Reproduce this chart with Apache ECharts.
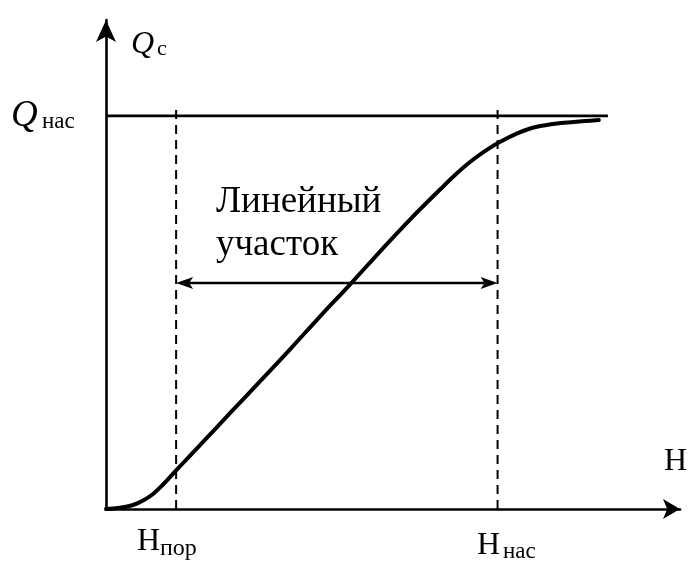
<!DOCTYPE html>
<html>
<head>
<meta charset="utf-8">
<script src="https://cdn.jsdelivr.net/npm/echarts@6/dist/echarts.min.js"></script>
<style>
  html, body { margin: 0; padding: 0; background: #fff; }
  #chart { width: 689px; height: 563px; }
</style>
</head>
<body>
<div id="chart"></div>
<script>
// Magnetisation-type curve Q_c(H): field strength H vs. output Q_c (arbitrary units)
const fieldH = [0, 2.41, 4.66, 6.38, 8.10, 9.83, 12.07, 14.48, 17.07, 21.38, 26.55, 31.72, 36.90,
                42.07, 47.24, 52.41, 57.59, 60.17, 62.76, 65.34, 67.93, 70.52, 73.97, 78.28, 82.59, 84.83];
const outputQ = [0, 0.24, 0.80, 1.71, 3.02, 4.93, 7.75, 10.76, 13.98, 19.32, 25.75, 32.19, 38.83,
                 45.27, 51.91, 58.35, 64.39, 67.30, 69.92, 72.13, 73.94, 75.45, 76.86, 77.67, 78.07, 78.27];

// Characteristic levels
const qSat = 79.1;          // Q_нас, saturation level
const qSatLineEnd = 86.4;   // extent of the saturation level line
const hThreshold = 12.07;   // H_пор
const hSat = 67.4;          // H_нас
const guideTop = 81.2;      // top of the dashed guides
const spanLevel = 45.5;     // height of the "linear region" span arrow

const axisMaxH = 98.8;
const axisMaxQ = 98.4;

const serif = '"Liberation Serif", "DejaVu Serif", serif';

const chart = echarts.init(document.getElementById('chart'), null, { renderer: 'canvas' });

function label(text, x, y, size, italic) {
  return {
    type: 'text', x: x, y: y, silent: true,
    style: {
      text: text, fill: '#000',
      font: (italic ? 'italic ' : '') + size + 'px ' + serif,
      verticalAlign: 'middle', align: 'left'
    }
  };
}

chart.setOption({
  animation: false,
  backgroundColor: '#fff',
  grid: { left: 106, right: 9, top: 20, bottom: 54 },
  xAxis: {
    type: 'value', min: 0, max: axisMaxH,
    axisLine: { show: true, lineStyle: { color: '#000', width: 2.6 }, symbol: ['none', 'arrow'], symbolSize: [15, 17] },
    axisTick: { show: false }, axisLabel: { show: false }, splitLine: { show: false }
  },
  yAxis: {
    type: 'value', min: 0, max: axisMaxQ,
    axisLine: { show: true, lineStyle: { color: '#000', width: 2.6 }, symbol: ['none', 'arrow'], symbolSize: [15, 22] },
    axisTick: { show: false }, axisLabel: { show: false }, splitLine: { show: false }
  },
  series: [
    {
      name: 'Q_нас', type: 'line', symbol: 'none', silent: true,
      data: [[0, qSat], [qSatLineEnd, qSat]],
      lineStyle: { color: '#000', width: 2.6 }
    },
    {
      name: 'H_пор', type: 'line', symbol: 'none', silent: true,
      data: [[hThreshold, 0], [hThreshold, guideTop]],
      lineStyle: { color: '#000', width: 2, type: [9, 6] }
    },
    {
      name: 'H_нас', type: 'line', symbol: 'none', silent: true,
      data: [[hSat, 0], [hSat, guideTop]],
      lineStyle: { color: '#000', width: 2, type: [9, 6] }
    },
    {
      name: 'Q_c', type: 'line', symbol: 'none', silent: true,
      smooth: 0.4,
      data: fieldH.map((h, i) => [h, outputQ[i]]),
      lineStyle: { color: '#000', width: 4, cap: 'round' }
    },
    {
      // double-headed arrow marking the linear region
      name: 'span', type: 'custom', silent: true,
      data: [[hThreshold, hSat, spanLevel]],
      renderItem: function (params, api) {
        const a = api.coord([api.value(0), api.value(2)]);
        const b = api.coord([api.value(1), api.value(2)]);
        const L = 17, W = 6, N = 13;
        return {
          type: 'group',
          children: [
            { type: 'line', shape: { x1: a[0] + N, y1: a[1], x2: b[0] - N, y2: b[1] }, style: { stroke: '#000', lineWidth: 2.5 } },
            { type: 'polygon', shape: { points: [[a[0], a[1]], [a[0] + L, a[1] - W], [a[0] + N, a[1]], [a[0] + L, a[1] + W]] }, style: { fill: '#000' } },
            { type: 'polygon', shape: { points: [[b[0], b[1]], [b[0] - L, b[1] - W], [b[0] - N, b[1]], [b[0] - L, b[1] + W]] }, style: { fill: '#000' } }
          ]
        };
      }
    }
  ],
  graphic: [
    label('Q', 131, 45, 32, true),
    label('c', 157, 49, 22, false),
    label('Q', 11, 116, 37, true),
    label('нас', 42, 122, 23, false),
    label('H', 137, 542, 32, false),
    label('пор', 160, 549, 24, false),
    label('H', 477, 546, 32, false),
    label('нас', 503, 552, 23, false),
    label('H', 664, 462, 32, false),
    label('Линейный', 216, 202, 37, false),
    label('участок', 216, 245, 37, false)
  ]
});
</script>
</body>
</html>
